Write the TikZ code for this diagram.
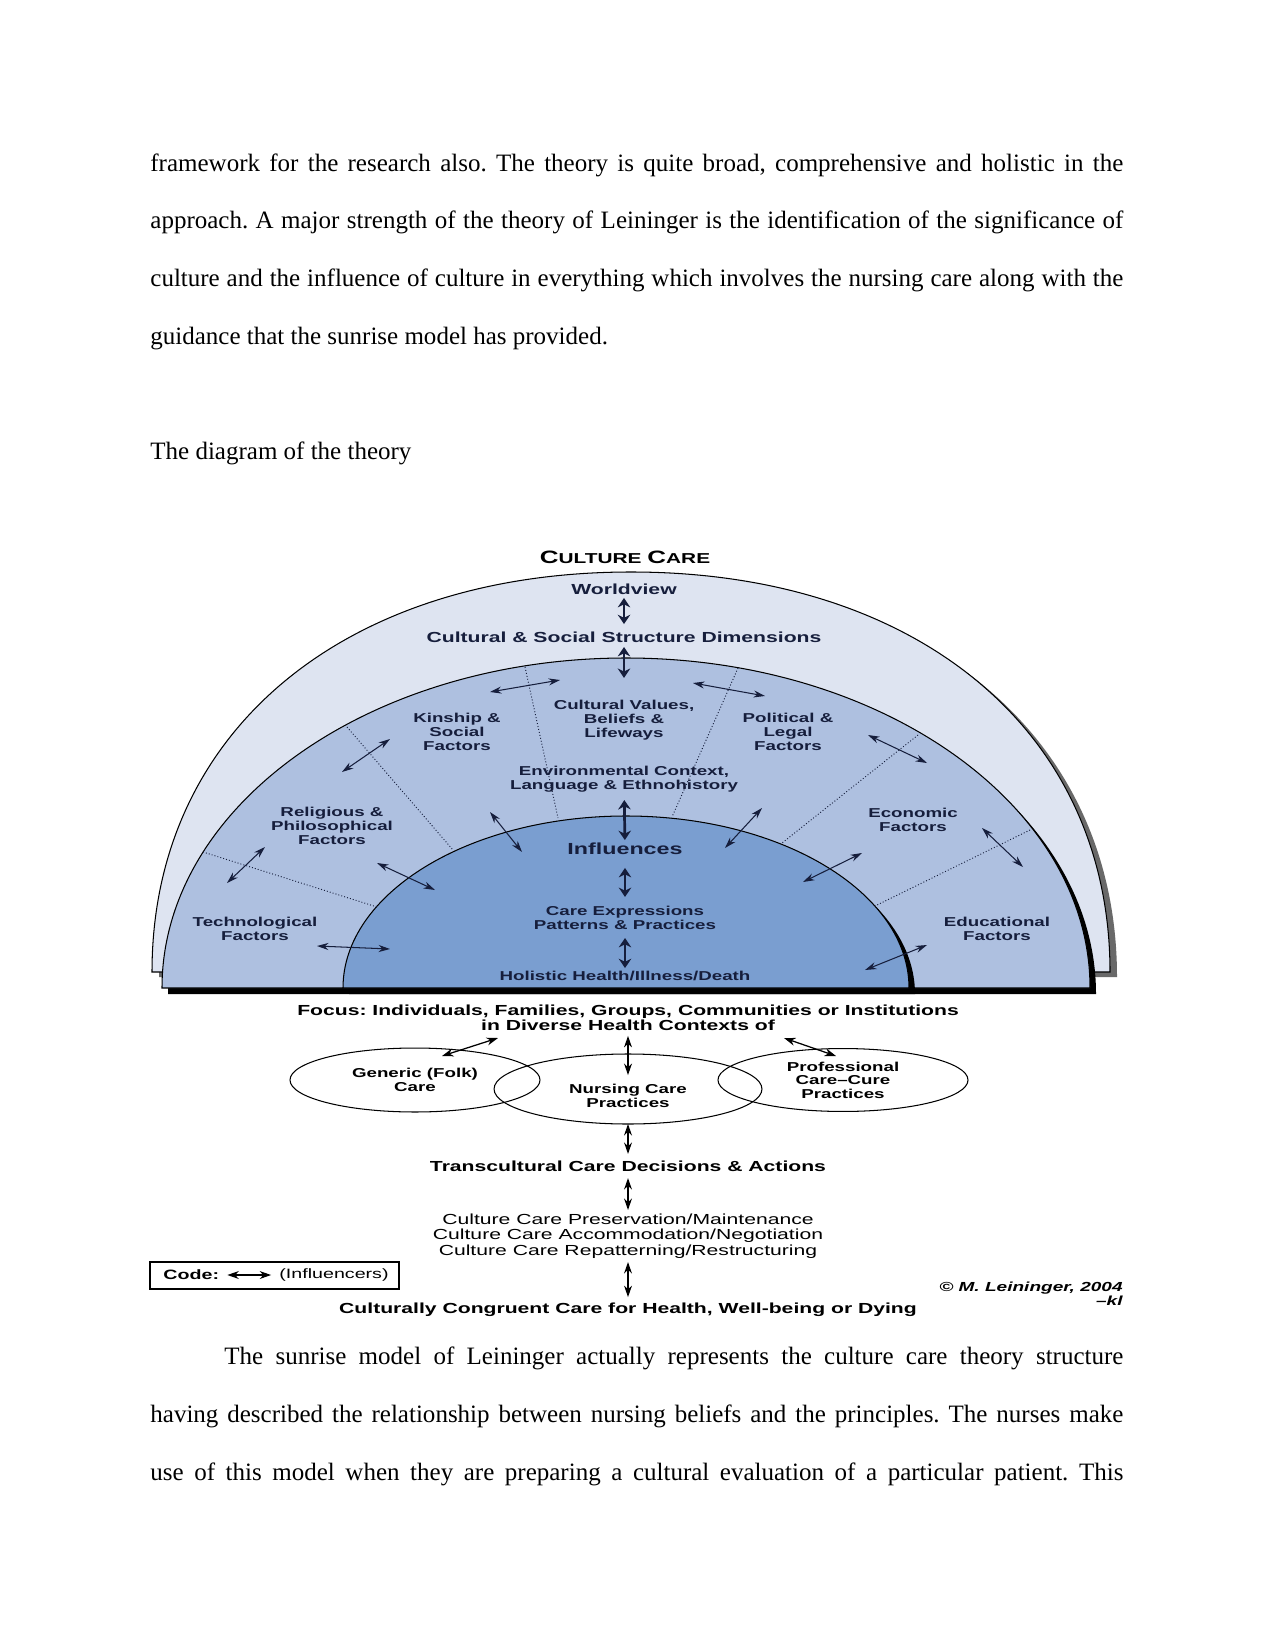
\documentclass[tikz,border=0pt]{standalone}
\usepackage{fontspec}
\setmainfont{Liberation Serif}
\newfontfamily\widefont[FakeStretch=1.45]{Liberation Sans}
\usetikzlibrary{arrows.meta, positioning, shapes.geometric, fit}
\definecolor{sunnavy}{RGB}{22,30,60}
\definecolor{outerband}{RGB}{222,228,241}
\definecolor{midband}{RGB}{174,192,224}
\definecolor{innerband}{RGB}{122,158,208}
\definecolor{shadegrey}{RGB}{105,105,105}
\frenchspacing

\begin{document}
\begin{tikzpicture}[
    x=0.48pt, y=-0.48pt,
    body/.style={anchor=base west, inner sep=0pt, font=\fontsize{12pt}{14pt}\selectfont},
    ring/.style={draw=black, line width=0.5pt},
    lbl/.style={inner sep=0pt, align=center, text=sunnavy,
        font=\widefont\bfseries\fontsize{6.2pt}{6.6pt}\selectfont},
    hdr/.style={inner sep=0pt, align=center, text=sunnavy,
        font=\widefont\bfseries\fontsize{7pt}{7.2pt}\selectfont},
    low/.style={inner sep=0pt, align=center,
        font=\widefont\bfseries\fontsize{7pt}{7.2pt}\selectfont},
    lowreg/.style={inner sep=0pt, align=center,
        font=\widefont\fontsize{7pt}{7.4pt}\selectfont},
    oval/.style={ellipse, draw=black, line width=0.5pt, inner sep=0pt, align=center,
        font=\widefont\bfseries\fontsize{6.2pt}{6.5pt}\selectfont},
    cpy/.style={inner sep=0pt, anchor=east,
        font=\widefont\bfseries\itshape\fontsize{6.3pt}{6.5pt}\selectfont},
    bigarr/.style={{Stealth[length=4.5pt,width=6pt]}-{Stealth[length=4.5pt,width=6pt]},
        line width=1.3pt, draw=sunnavy},
    infl/.style={{Stealth[length=5.5pt,width=3.4pt]}-{Stealth[length=5.5pt,width=3.4pt]},
        line width=0.5pt, draw=sunnavy},
    lowarr/.style={{Stealth[length=5.5pt,width=3.8pt]}-{Stealth[length=5.5pt,width=3.8pt]},
        line width=0.6pt, draw=black},
    divider/.style={densely dotted, line width=0.45pt, draw=sunnavy}
]
\fill[white] (0,0) rectangle (1275,1650);
\useasboundingbox (0,0) rectangle (1275,1650);

% text above the figure
\node[body] (p1) at (150,172) {\makebox[467pt][s]{framework for the research also. The theory is quite broad, comprehensive and holistic in the}};
\node[body] (p2) at (150,229) {\makebox[467pt][s]{approach. A major strength of the theory of Leininger is the identification of the significance of}};
\node[body] (p3) at (150,287) {\makebox[467pt][s]{culture and the influence of culture in everything which involves the nursing care along with the}};
\node[body] (p4) at (150,345) {guidance that the sunrise model has provided.};
\node[body] (cap) at (150,459) {The diagram of the theory};

% bands of the sunrise
\fill[shadegrey, shift={(7,5)}] (152,972) .. controls (152,732) and (343.6,572) .. (631,572)
    .. controls (918.4,572) and (1110,732) .. (1110,972) -- cycle;
\filldraw[ring, fill=outerband] (152,972) .. controls (152,732) and (343.6,572) .. (631,572)
    .. controls (918.4,572) and (1110,732) .. (1110,972) -- cycle;
\fill[black, shift={(6,6)}] (162,988) .. controls (162,805.7) and (369.7,658) .. (626,658)
    .. controls (882.3,658) and (1090,805.7) .. (1090,988) -- cycle;
\filldraw[ring, fill=midband] (162,988) .. controls (162,805.7) and (369.7,658) .. (626,658)
    .. controls (882.3,658) and (1090,805.7) .. (1090,988) -- cycle;
\fill[black, shift={(6,6)}] (343,988) .. controls (343,893) and (469.7,816) .. (626,816)
    .. controls (782.3,816) and (909,893) .. (909,988) -- cycle;
\filldraw[ring, fill=innerband] (343,988) .. controls (343,893) and (469.7,816) .. (626,816)
    .. controls (782.3,816) and (909,893) .. (909,988) -- cycle;

\draw[divider] (203,852) -- (377,907);
\draw[divider] (347,727) -- (453,850);
\draw[divider] (525,667) -- (558,818);
\draw[divider] (738,668) -- (672,817);
\draw[divider] (918,735) -- (782,843);
\draw[divider] (1030,830) -- (875,906);

\node[hdr, text=black] (title) at (625,557)
    {{\fontsize{8.6pt}{8.6pt}\selectfont C}{\fontsize{6.9pt}{7pt}\selectfont ULTURE }{\fontsize{8.6pt}{8.6pt}\selectfont C}{\fontsize{6.9pt}{7pt}\selectfont ARE}};
\node[hdr] (wv) at (624,589) {Worldview};
\node[hdr] (cssd) at (624,637) {Cultural \& Social Structure Dimensions};
\node[lbl] (cvb) at (624,720) {Cultural Values,\\Beliefs \&\\Lifeways};
\node[lbl] (env) at (624,779) {Environmental Context,\\Language \& Ethnohistory};
\node[lbl] (kin) at (457,732) {Kinship \&\\Social\\Factors};
\node[lbl] (pol) at (788,732) {Political \&\\Legal\\Factors};
\node[lbl] (rel) at (332,826) {Religious \&\\Philosophical\\Factors};
\node[lbl] (eco) at (913,820) {Economic\\Factors};
\node[lbl] (tech) at (255,929) {Technological\\Factors};
\node[lbl] (edu) at (997,929) {Educational\\Factors};
\node[hdr, font=\widefont\bfseries\fontsize{7.7pt}{8pt}\selectfont] (infl) at (625,849) {Influences};
\node[lbl] (care) at (625,918) {Care Expressions\\Patterns \& Practices};
\node[lbl] (hol) at (625,976) {Holistic Health/Illness/Death};

\draw[bigarr, shorten <=4.3pt, shorten >=6.2pt] (wv.center) -- (cssd.center);
\draw[bigarr, shorten <=4.8pt, shorten >=20.2pt] (cssd.center) -- (cvb.center);
\draw[bigarr, shorten <=10.1pt, shorten >=4.3pt] (env.center) -- (infl.center);
\draw[bigarr, shorten <=9.1pt, shorten >=10.1pt] (infl.center) -- (care.center);
\draw[bigarr, shorten <=9.6pt, shorten >=3.8pt] (care.center) -- (hol.center);

\foreach \nm/\ax/\ay/\bx/\by in {tr/227/883/265/847, rk/342/772/390/739, kc/490/692/560/680,
    cp/693/683/765/696, pe/868/735/927/763, ee/982/828/1023/867, ti/317/946/390/949,
    ri/377/863/435/890, ki/490/812/522/852, pi/725/848/762/808, ei/803/882/862/853,
    di/865/970/927/945}{
  \coordinate (\nm-a) at (\ax,\ay);
  \coordinate (\nm-b) at (\bx,\by);
  \draw[infl] (\nm-a) -- (\nm-b);
}

% lower part
\node[low] (focus) at (628,1018) {Focus: Individuals, Families, Groups, Communities or Institutions\\in Diverse Health Contexts of};
\node[oval, minimum width=120pt, minimum height=30.7pt] (generic) at (415,1080) {Generic (Folk)\\Care};
\node[oval, minimum width=128.6pt, minimum height=33.6pt] (nursing) at (628,1089) {};
\node[lbl, text=black] (nursingtxt) at (628,1096) {Nursing Care\\Practices};
\node[oval, minimum width=120pt, minimum height=30.2pt] (prof) at (843,1080) {Professional\\Care–Cure\\Practices};
\node[low] (trans) at (628,1166) {Transcultural Care Decisions \& Actions};
\node[lowreg] (ccare) at (628,1236) {Culture Care Preservation/Maintenance\\Culture Care Accommodation/Negotiation\\Culture Care Repatterning/Restructuring};
\node[low] (ccc) at (628,1310) {Culturally Congruent Care for Health, Well-being or Dying};

\draw[lowarr, shorten <=8.6pt, shorten >=6.7pt] (focus.center) -- (nursing.center);
\draw[lowarr, shorten <=16.8pt, shorten >=5.8pt] (nursing.center) -- (trans.center);
\draw[lowarr, shorten <=5.8pt, shorten >=12.5pt] (trans.center) -- (ccare.center);
\draw[lowarr, shorten <=12.5pt, shorten >=6.2pt] (ccare.center) -- (ccc.center);

\coordinate (gen-a) at (442,1056);
\coordinate (gen-b) at (498,1038);
\draw[lowarr] (gen-a) -- (gen-b);
\coordinate (prof-a) at (784,1038);
\coordinate (prof-b) at (836,1056);
\draw[lowarr] (prof-a) -- (prof-b);

\node[draw=black, line width=0.6pt, minimum width=119.5pt, minimum height=13pt, inner sep=0pt] (codebox) at (274.5,1275.5) {};
\node[low, anchor=west, font=\widefont\bfseries\fontsize{6.5pt}{7pt}\selectfont] (codek) at (163,1275) {Code:};
\node[lowreg, anchor=east, font=\widefont\fontsize{6.5pt}{7pt}\selectfont] (codei) at (389,1275) {(Influencers)};
\draw[lowarr, shorten <=3.8pt, shorten >=3.8pt] (codek.east) -- (codei.west);

\node[cpy] (copy) at (1123,1288) {© M. Leininger, 2004};
\node[cpy] (kl) at (1123,1301) {–kl};

% text below the figure
\node[body] (q1) at (224,1364) {\makebox[431.5pt][s]{The sunrise model of Leininger actually represents the culture care theory structure}};
\node[body] (q2) at (150,1422) {\makebox[467pt][s]{having described the relationship between nursing beliefs and the principles. The nurses make}};
\node[body] (q3) at (150,1480) {\makebox[467pt][s]{use of this model when they are preparing a cultural evaluation of a particular patient. This}};
\end{tikzpicture}
\end{document}
